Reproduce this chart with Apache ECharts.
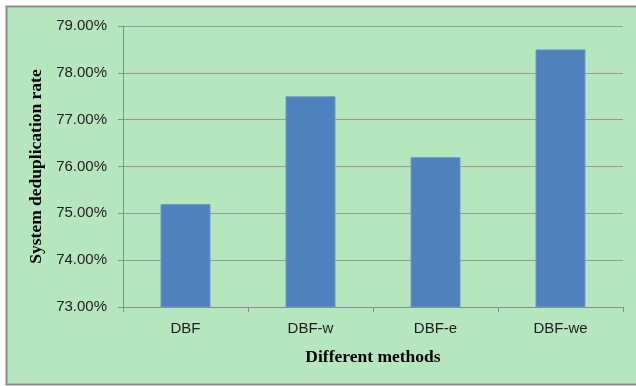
<!DOCTYPE html>
<html><head><meta charset="utf-8">
<script src="https://cdn.jsdelivr.net/npm/echarts@6/dist/echarts.min.js"></script>
<style>html,body{margin:0;padding:0;background:#fff}#c{width:636px;height:386px}</style>
</head><body><div id="c"></div>
<script>
var categories = ['DBF', 'DBF-w', 'DBF-e', 'DBF-we'];
var values = [75.2, 77.5, 76.2, 78.5];
var yMin = 73, yMax = 79, yStep = 1;

var chart = echarts.init(document.getElementById('c'), null, {renderer: 'canvas'});
chart.setOption({
  animation: false,
  backgroundColor: '#ffffff',
  graphic: [{
    type: 'rect', z: -10, silent: true,
    shape: {x: 6.5, y: 6.5, width: 640, height: 378},
    style: {fill: '#b6e6bd', stroke: '#8c8c8c', lineWidth: 2}
  }],
  grid: {left: 123, right: 13, top: 26, bottom: 79},
  xAxis: {
    type: 'category', data: categories,
    axisLine: {lineStyle: {color: '#8a8a8a', width: 1}},
    axisTick: {show: true, length: 5, lineStyle: {color: '#8a8a8a'}},
    axisLabel: {color: '#1e1e1e', fontSize: 15, fontFamily: 'Liberation Sans', margin: 14},
    name: 'Different methods', nameLocation: 'middle', nameGap: 41,
    nameTextStyle: {fontFamily: 'Liberation Serif', fontWeight: 'bold', fontSize: 17.5, color: '#000'}
  },
  yAxis: {
    type: 'value', min: yMin, max: yMax, interval: yStep,
    axisLine: {show: true, lineStyle: {color: '#8a8a8a', width: 1}},
    axisTick: {show: true, length: 5, lineStyle: {color: '#8a8a8a'}},
    splitLine: {lineStyle: {color: '#999999', width: 1}},
    axisLabel: {color: '#1e1e1e', fontSize: 15, fontFamily: 'Liberation Sans', margin: 16,
      formatter: function (v) { return v.toFixed(2) + '%'; }},
    name: 'System deduplication rate', nameLocation: 'middle', nameGap: 70,
    nameTextStyle: {fontFamily: 'Liberation Serif', fontWeight: 'bold', fontSize: 17.5, color: '#000'}
  },
  series: [{
    type: 'bar', data: values, barWidth: '40%',
    itemStyle: {color: '#4f81bd', borderColor: '#6f98cb', borderWidth: 1}
  }]
});
</script></body></html>
